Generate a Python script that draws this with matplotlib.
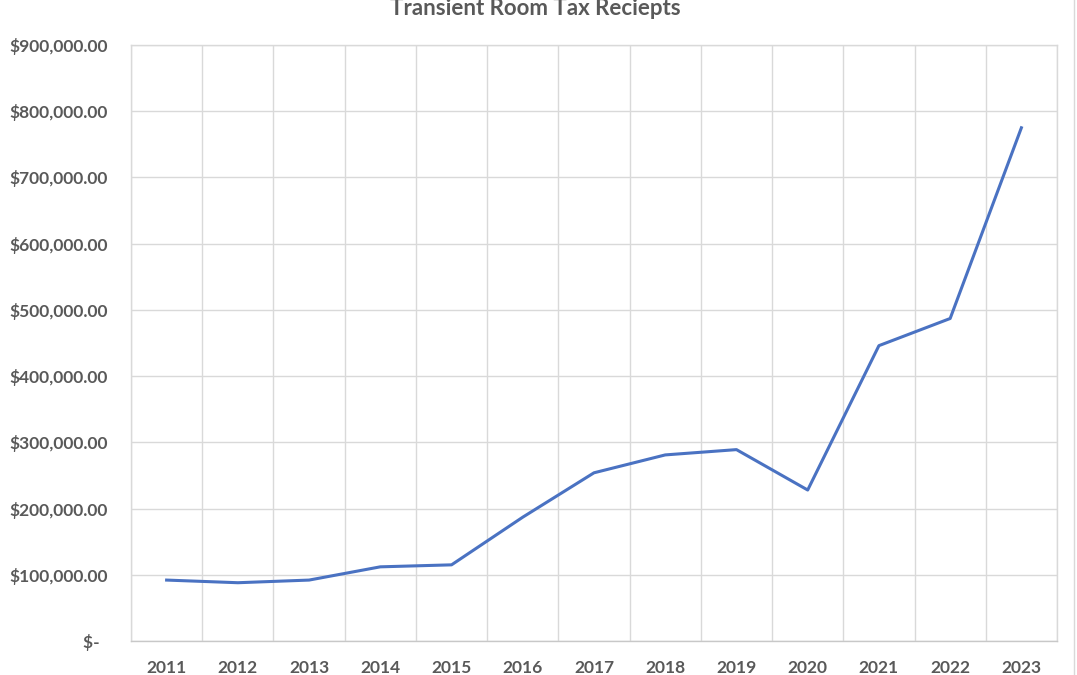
import matplotlib
matplotlib.use("Agg")
import matplotlib.pyplot as plt
from matplotlib.ticker import FuncFormatter, MultipleLocator, FixedLocator
from matplotlib.lines import Line2D

years = ["2011", "2012", "2013", "2014", "2015", "2016", "2017",
         "2018", "2019", "2020", "2021", "2022", "2023"]
receipts = [92000, 88000, 92000, 112000, 115000, 187000, 254000,
            281000, 289000, 228000, 446000, 487000, 775000]
title = "Transient Room Tax Reciepts"

plt.rcParams['font.family'] = ['Lato', 'DejaVu Sans']

fig = plt.figure(figsize=(10.77, 6.75), dpi=100)
ax = fig.add_axes([131/1077, 1-641/675, (1057-131)/1077, (641-45)/675])

x = list(range(len(years)))
ax.plot(x, receipts, color="#4A72C2", lw=2.2, solid_joinstyle="round")

ax.set_xlim(-0.5, len(years) - 0.5)
ax.set_ylim(0, 900000)
ax.yaxis.set_major_locator(MultipleLocator(100000))

def fmt(v, pos):
    if abs(v) < 1:
        return "$-  "
    return "${:,.2f}".format(v)

ax.yaxis.set_major_formatter(FuncFormatter(fmt))
ax.set_xticks(x)
ax.set_xticklabels(years)
ax.xaxis.set_minor_locator(FixedLocator([i - 0.5 for i in range(len(years) + 1)]))

ax.grid(True, which="major", axis="y", color="#D9D9D9", lw=1.0)
ax.grid(True, which="minor", axis="x", color="#D9D9D9", lw=1.0)
ax.set_axisbelow(True)
for s in ax.spines.values():
    s.set_color("#D9D9D9")
    s.set_linewidth(1.0)
ax.spines['bottom'].set_color("#C8C8C8")

ax.tick_params(axis="both", which="both", length=0)
ax.tick_params(axis="y", pad=16.5, labelsize=12.5, labelcolor="#595959")
ax.tick_params(axis="x", pad=13.5, labelsize=12.5, labelcolor="#595959")
for lab in ax.get_xticklabels() + ax.get_yticklabels():
    lab.set_fontweight("bold")

fig.text(535/1077, 1 - 15/675, title, ha="center", va="baseline",
         fontsize=16, fontweight="bold", color="#595959")

fig.add_artist(Line2D([1074/1077, 1074/1077], [0, 1], color="#D9D9D9", lw=1.0,
                      transform=fig.transFigure))

fig.savefig("out.png", dpi=100, facecolor="white")
